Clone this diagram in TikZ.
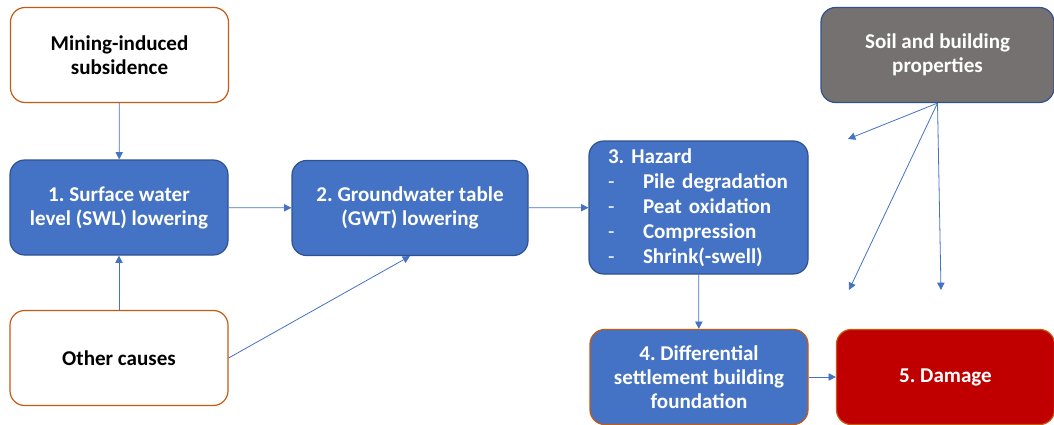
\documentclass[tikz,border=0pt]{standalone}
\usepackage{fontspec}
\setmainfont{Carlito}
\usetikzlibrary{positioning,arrows.meta}
\definecolor{boxblue}{HTML}{4472C4}
\definecolor{edgeblue}{HTML}{2F528F}
\definecolor{edgeorange}{HTML}{C55A11}
\definecolor{boxred}{HTML}{C00000}
\definecolor{boxgrey}{HTML}{767171}
\frenchspacing
\tikzset{
box/.style={
  draw,
  rounded corners=11pt,
  line width=0.9pt,
  minimum width=163.5pt,
  minimum height=71.25pt,
  inner sep=2pt,
  align=center,
  font=\fontsize{15.8}{18}\selectfont\bfseries
},
cause/.style={box, draw=edgeorange, fill=white, text=black},
stage/.style={box, draw=edgeblue, fill=boxblue, text=white},
link/.style={draw=boxblue, line width=0.6pt, -{Triangle[length=5.5pt,width=5.5pt]}},
}
\newcommand{\hz}{\makebox[26.25pt][l]{\mdseries -}}

\begin{document}
\begin{tikzpicture}[x=0.75pt,y=-0.75pt]
\useasboundingbox (0,0) rectangle (1054,425);
% causes
\node[cause] (mining) at (119.5,55) {Mining-induced\\subsidence};
\node[cause] (other) at (119,358) {Other causes};
% chain
\node[stage] (swl) at (119,207.5) {1. Surface water\\level (SWL) lowering};
\node[stage, minimum width=177pt] (gwt) at (410,208) {2. Groundwater table\\(GWT) lowering};
\node[stage, minimum height=99.75pt, text width=135.75pt, inner xsep=14.25pt, align=left,
      font=\fontsize{15.8}{18.75}\selectfont\bfseries] (hazard) at (698.5,207.5)
      {3. Hazard\\\hz Pile degradation\\\hz Peat oxidation\\\hz Compression\\\hz Shrink(-swell)};
\node[stage, draw=edgeorange] (settle) at (699,377) {4. Differential\\settlement building\\foundation};
\node[box, draw=edgeorange, fill=boxred, text=white] (damage) at (945.5,377) {5. Damage};
\node[box, draw=edgeblue, fill=boxgrey, text=white, minimum width=174.75pt] (soil) at (937.5,55) {Soil and building\\properties};
% loose ends
\coordinate (s1) at (848,139);
\coordinate (s2) at (849,290);
\coordinate (s3) at (941,290);
% connectors
\draw[link] (mining) -- (swl);
\draw[link] (other) -- (swl);
\draw[link] (swl) -- (gwt);
\draw[link] (other.east) -- (gwt.south);
\draw[link] (gwt) -- (hazard);
\draw[link] (hazard) -- (settle);
\draw[link] (settle) -- (damage);
\draw[link] (soil.south) -- (s1);
\draw[link] (soil.south) -- (s2);
\draw[link] (soil.south) -- (s3);
\end{tikzpicture}
\end{document}
